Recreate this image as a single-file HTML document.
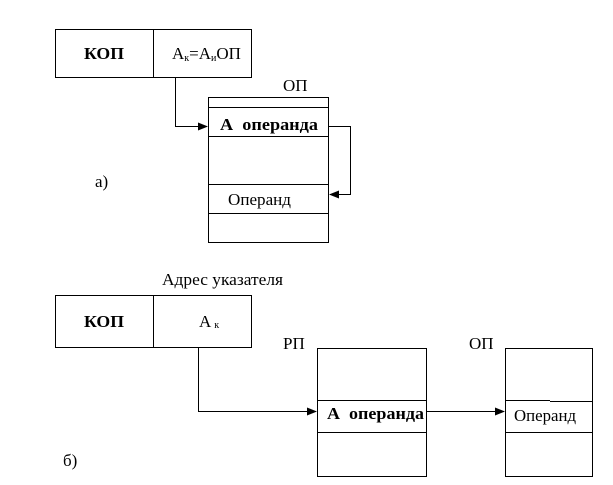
<!DOCTYPE html>
<html><head><meta charset="utf-8"><style>
body{margin:0;background:#fff}
svg{display:block}
text{font-family:"Liberation Serif",serif;font-size:17px;fill:#000;white-space:pre}
.b{font-weight:bold}
</style></head><body>
<svg width="613" height="485" viewBox="0 0 613 485">
<defs><marker id="a" markerWidth="10" markerHeight="8" refX="9" refY="4" orient="auto" markerUnits="userSpaceOnUse"><path d="M0,0 L10,4 L0,8 Z" fill="#000"/></marker></defs>
<g fill="none" stroke="#000" stroke-width="1">
<rect x="55.5" y="29.5" width="196" height="48"/>
<line x1="153.5" y1="29" x2="153.5" y2="77"/>
<rect x="208.5" y="97.5" width="120" height="145"/>
<line x1="208" y1="107.5" x2="328" y2="107.5"/>
<line x1="208" y1="136.5" x2="328" y2="136.5"/>
<line x1="208" y1="184.5" x2="328" y2="184.5"/>
<line x1="208" y1="213.5" x2="328" y2="213.5"/>
<polyline points="175.5,77 175.5,126.5 207,126.5" marker-end="url(#a)"/>
<polyline points="328,126.5 350.5,126.5 350.5,194.5 330,194.5" marker-end="url(#a)"/>
<rect x="55.5" y="295.5" width="196" height="52"/>
<line x1="153.5" y1="295" x2="153.5" y2="347"/>
<rect x="317.5" y="348.5" width="109" height="128"/>
<line x1="317" y1="400.5" x2="426" y2="400.5"/>
<line x1="317" y1="432.5" x2="426" y2="432.5"/>
<rect x="505.5" y="348.5" width="87" height="128"/>
<line x1="505" y1="400.5" x2="550" y2="400.5"/>
<line x1="550" y1="401.5" x2="592" y2="401.5"/>
<line x1="505" y1="432.5" x2="592" y2="432.5"/>
<polyline points="198.5,347 198.5,411.5 316,411.5" marker-end="url(#a)"/>
<line x1="426" y1="411.5" x2="504" y2="411.5" marker-end="url(#a)"/>
</g>
<text x="84" y="59" class="b" textLength="40" lengthAdjust="spacingAndGlyphs">КОП</text>
<text x="172" y="59" font-size="16">А<tspan font-size="10" dy="2">к</tspan><tspan dy="-2">=А</tspan><tspan font-size="10" dy="2">и</tspan><tspan dy="-2">ОП</tspan></text>
<text x="283" y="91">ОП</text>
<text x="220" y="130" class="b" textLength="98" lengthAdjust="spacingAndGlyphs">А  операнда</text>
<text x="95" y="187">а)</text>
<text x="228" y="205" textLength="63" lengthAdjust="spacingAndGlyphs">Операнд</text>
<text x="162" y="285" textLength="121" lengthAdjust="spacingAndGlyphs">Адрес указателя</text>
<text x="84" y="327" class="b" textLength="40" lengthAdjust="spacingAndGlyphs">КОП</text>
<text x="199" y="327">А<tspan font-size="10" dx="3" dy="1">к</tspan></text>
<text x="283" y="349">РП</text>
<text x="469" y="349">ОП</text>
<text x="327" y="419" class="b" textLength="97" lengthAdjust="spacingAndGlyphs">А  операнда</text>
<text x="514" y="421" textLength="62" lengthAdjust="spacingAndGlyphs">Операнд</text>
<text x="63" y="466">б)</text>
</svg>
</body></html>
